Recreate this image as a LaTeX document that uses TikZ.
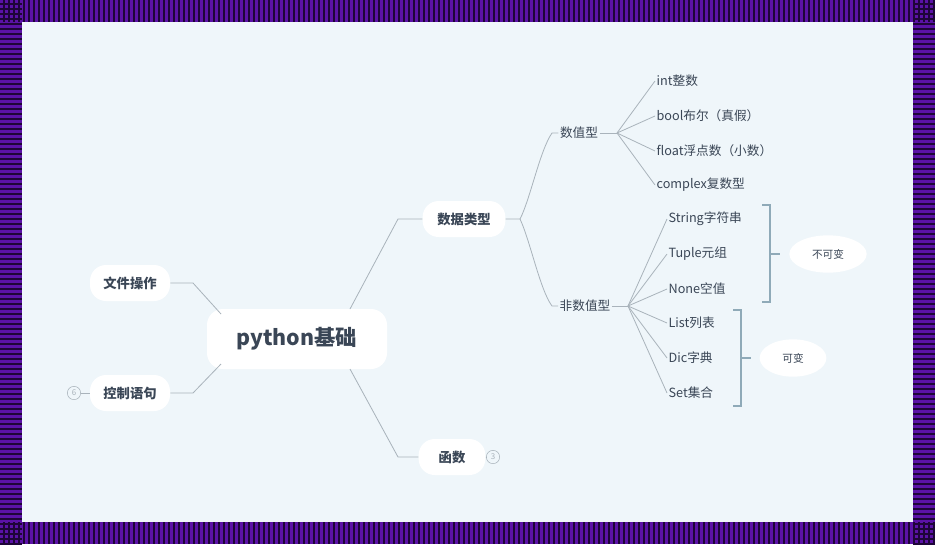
\documentclass[tikz,border=0pt]{standalone}
\usepackage{fontspec}
\setmainfont{Noto Sans CJK SC}
\usetikzlibrary{shapes.geometric}
\definecolor{bg}{HTML}{EFF6FA}
\definecolor{pur}{HTML}{5B12A6}
\definecolor{dk}{HTML}{1E0538}
\definecolor{txt}{HTML}{3A4656}
\definecolor{ln}{HTML}{A9B3BB}
\definecolor{br}{HTML}{8FAAB8}
\tikzset{
 blob/.style={fill=white,rounded corners=12pt,inner sep=0pt,text=txt,font=\bfseries},
 plain/.style={text=txt,font=\fontsize{9.5}{11}\selectfont,inner sep=1pt},
 leaf/.style={plain,anchor=west},
 conn/.style={draw=ln,line width=0.6pt},
 brk/.style={draw=br,line width=0.8pt},
 tag/.style={ellipse,fill=white,text=txt,font=\itshape\fontsize{8}{9}\selectfont,inner sep=0pt},
 num/.style={circle,draw=ln,text=ln,font=\fontsize{6}{7}\selectfont,inner sep=0pt,minimum size=10pt}
}
\begin{document}
\begin{tikzpicture}[x=0.75pt,y=-0.75pt]
\useasboundingbox (0,0) rectangle (935,544);
\fill[pur] (0,0) rectangle (935,544);
\foreach \i in {0,...,186} {\fill[dk] (\i*5+2.5,0) rectangle (\i*5+4.5,22); \fill[dk] (\i*5+2.5,522) rectangle (\i*5+4.5,544);}
\foreach \j in {0,...,108} {\fill[dk] (0,\j*5+2.5) rectangle (22,\j*5+4.5); \fill[dk] (913,\j*5+2.5) rectangle (935,\j*5+4.5);}
\fill[bg] (22,22) rectangle (913,522);
% main nodes
\node[blob,minimum width=135pt,minimum height=45pt,font=\bfseries\fontsize{16}{18}\selectfont] (root) at (297,339) {python基础};
\node[blob,minimum width=60pt,minimum height=27pt,font=\bfseries\fontsize{10}{12}\selectfont] (file) at (130,283) {文件操作};
\node[blob,minimum width=60pt,minimum height=27pt,font=\bfseries\fontsize{10}{12}\selectfont] (ctrl) at (130,393) {控制语句};
\node[blob,minimum width=62pt,minimum height=27pt,font=\bfseries\fontsize{10}{12}\selectfont] (data) at (464,219) {数据类型};
\node[blob,minimum width=50pt,minimum height=27pt,font=\bfseries\fontsize{10}{12}\selectfont] (func) at (452,457) {函数};
\node[num] (n6) at (74,393) {6};
\node[num] (n3) at (493,457) {3};
\node[plain] (numt) at (579,133) {数值型};
\node[plain] (nont) at (585,306) {非数值型};
% leaves
\node[leaf] (l1) at (655,81) {int整数};
\node[leaf] (l2) at (655,116) {bool布尔（真假）};
\node[leaf] (l3) at (655,151) {float浮点数（小数）};
\node[leaf] (l4) at (655,185) {complex复数型};
\node[leaf] (m1) at (667,219) {String字符串};
\node[leaf] (m2) at (667,254) {Tuple元组};
\node[leaf] (m3) at (667,289) {None空值};
\node[leaf] (m4) at (667,323) {List列表};
\node[leaf] (m5) at (667,358) {Dic字典};
\node[leaf] (m6) at (667,393) {Set集合};
\node[tag,minimum width=58pt,minimum height=28pt] (imm) at (828,254) {不可变};
\node[tag,minimum width=50pt,minimum height=28pt] (mut) at (793,358) {可变};
% connectors
\coordinate (rt) at (350,309); \coordinate (rb) at (350,369);
\coordinate (rl1) at (221,314); \coordinate (rl2) at (221,364);
\draw[conn] (rt) -- (398,219) -- (data.west);
\draw[conn] (rb) -- (398,457) -- (func.west);
\draw[conn] (rl1) -- (193,283) -- (file.east);
\draw[conn] (rl2) -- (193,393) -- (ctrl.east);
\draw[conn] (n6) -- (ctrl.west);
\draw[conn] (func.east) -- (n3);
\coordinate (dj) at (520,219);
\draw[conn] (data.east) -- (dj) .. controls (530,200) and (540,150) .. (552,133) -- (numt.west);
\draw[conn] (dj) .. controls (530,240) and (540,290) .. (552,306) -- (nont.west);
\coordinate (f1) at (617,133);
\draw[conn] (numt.east) -- (f1);
\foreach \n in {l1,l2,l3,l4} \draw[conn] (f1) -- (\n.west);
\coordinate (f2) at (628,306);
\draw[conn] (nont.east) -- (f2);
\foreach \n in {m1,m2,m3,m4,m5,m6} \draw[conn] (f2) -- (\n.west);
% brackets
\draw[brk] (762,205) -- (770,205) -- (770,302) -- (762,302);
\draw[brk] (770,254) -- (780,254);
\draw[brk] (733,310) -- (741,310) -- (741,406) -- (733,406);
\draw[brk] (741,358) -- (751,358);
\end{tikzpicture}
\end{document}
